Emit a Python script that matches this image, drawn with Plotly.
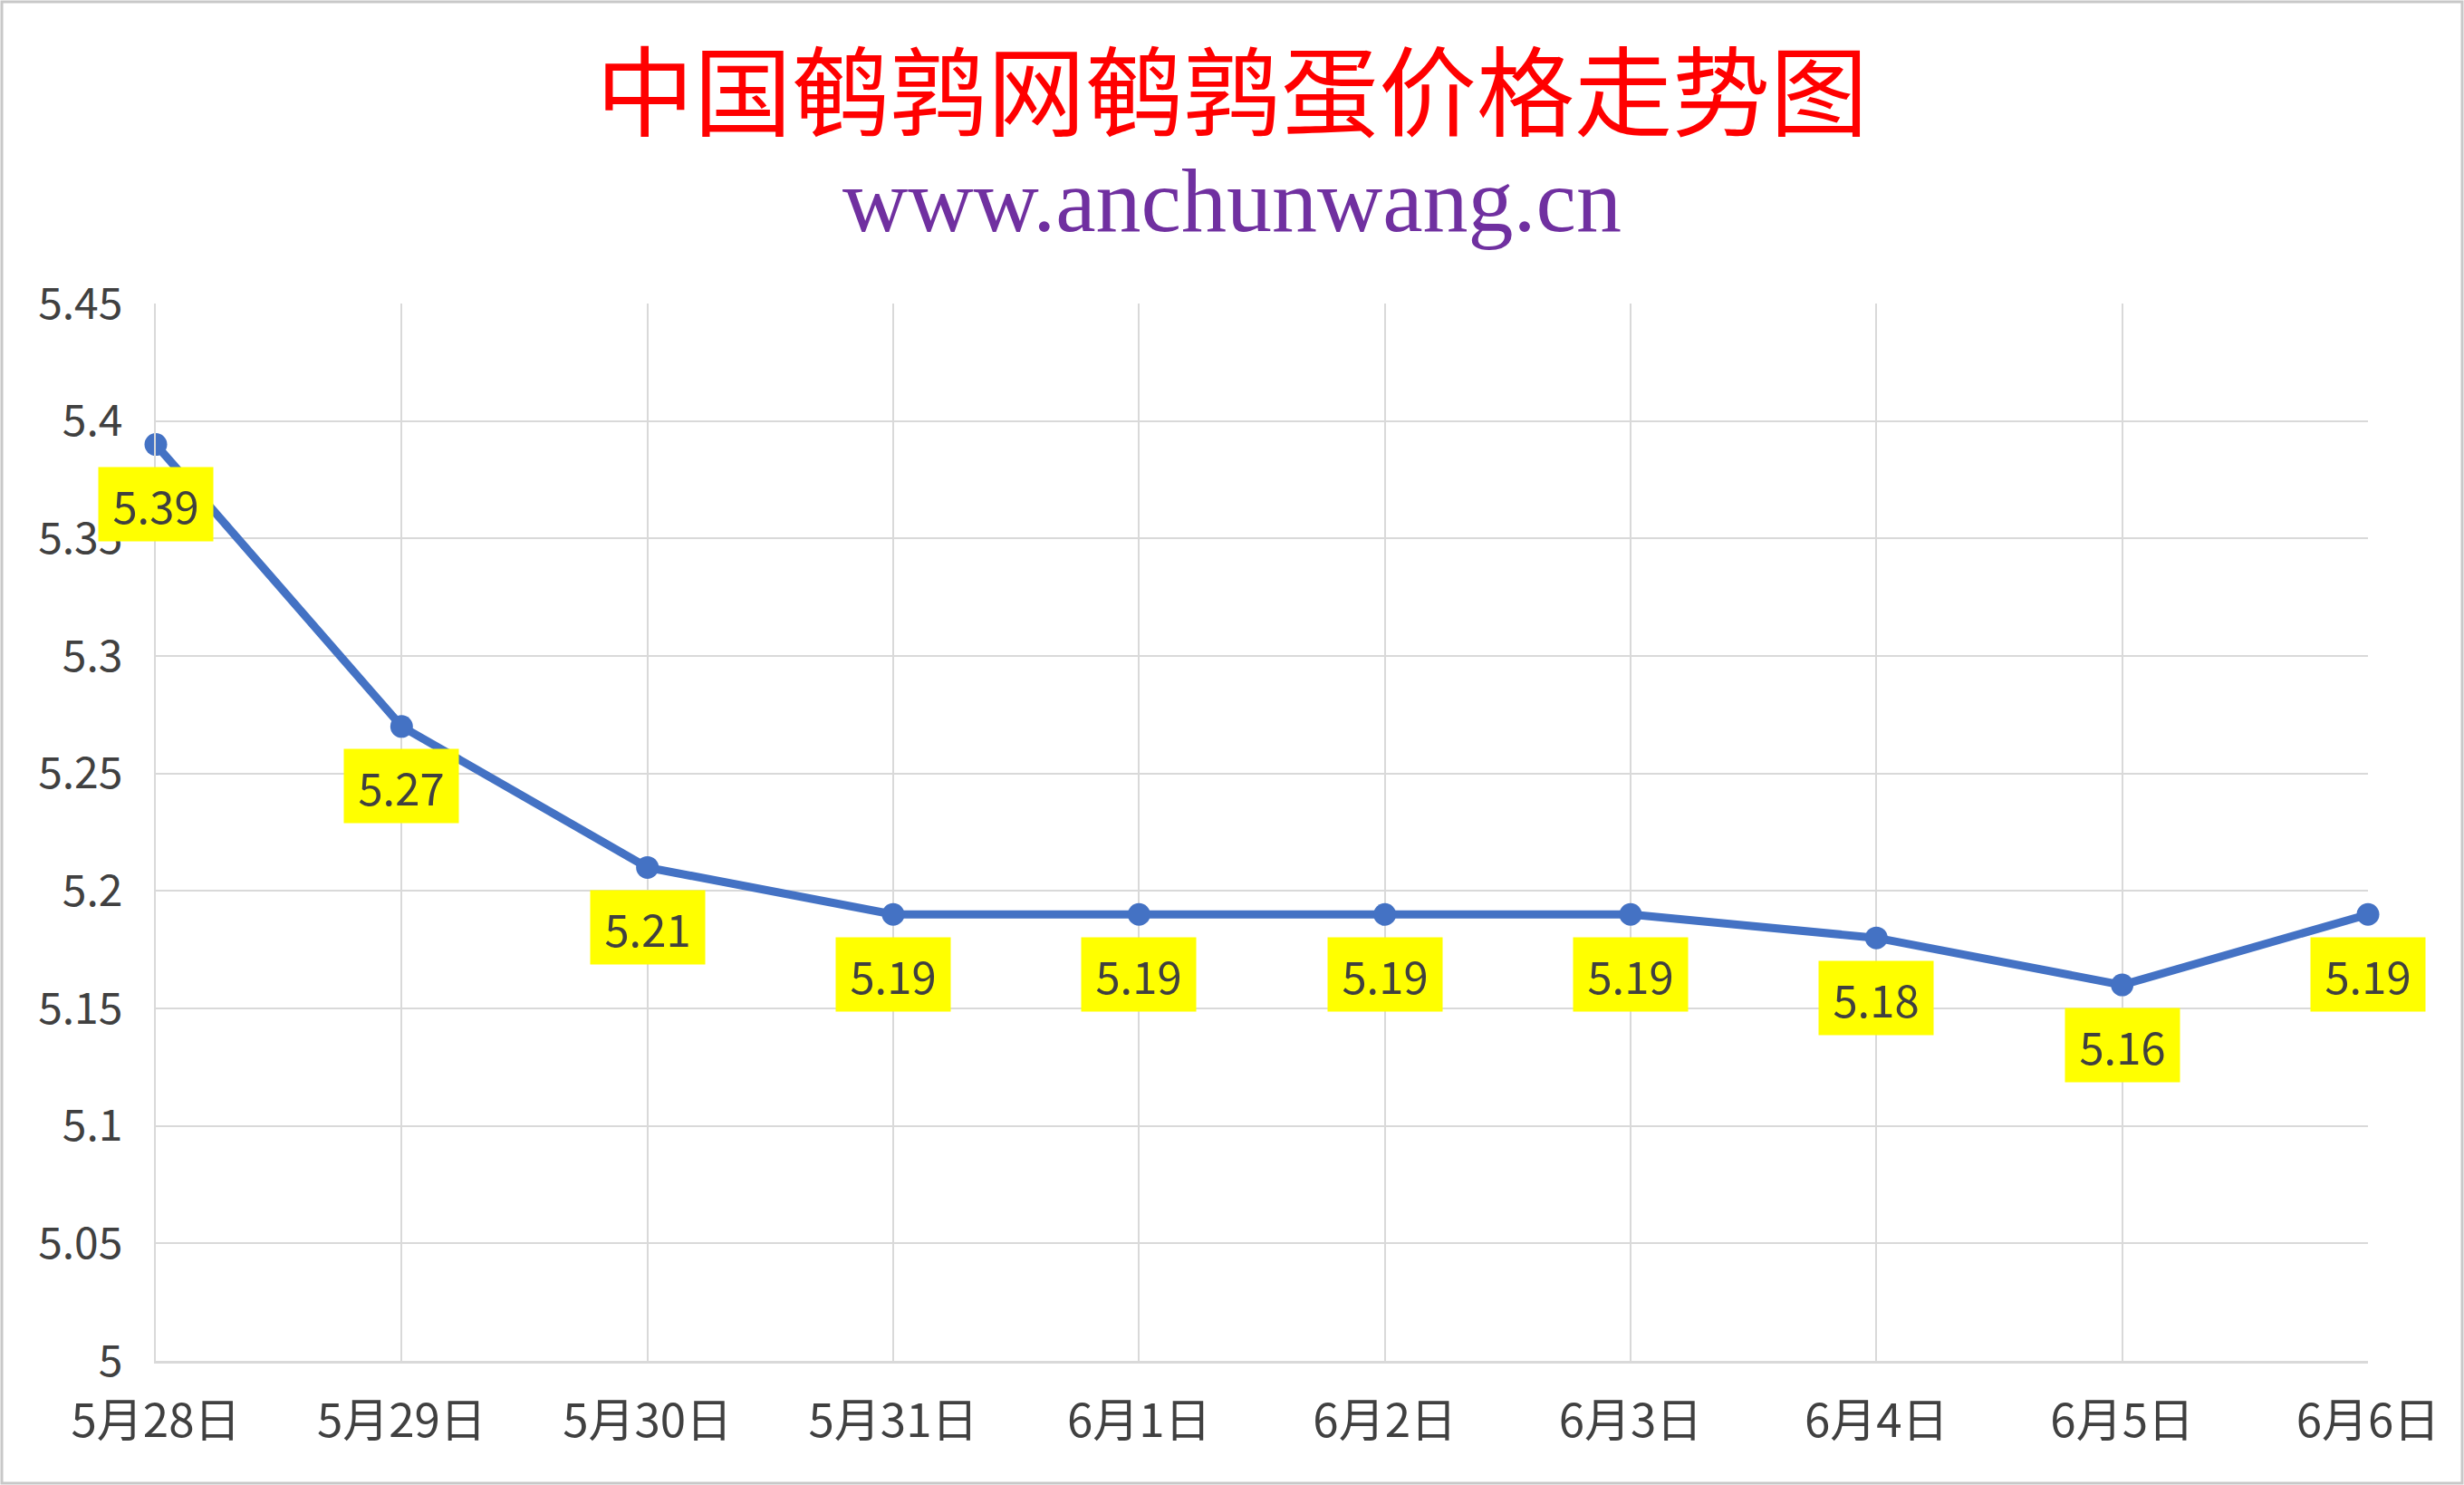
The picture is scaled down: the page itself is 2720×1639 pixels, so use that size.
import plotly.graph_objects as go

# data
dates = ["5月28日", "5月29日", "5月30日", "5月31日", "6月1日",
         "6月2日", "6月3日", "6月4日", "6月5日", "6月6日"]
prices = [5.39, 5.27, 5.21, 5.19, 5.19, 5.19, 5.19, 5.18, 5.16, 5.19]
y_ticks = [5.0, 5.05, 5.1, 5.15, 5.2, 5.25, 5.3, 5.35, 5.4, 5.45]
y_tick_text = ["5", "5.05", "5.1", "5.15", "5.2", "5.25", "5.3", "5.35", "5.4", "5.45"]

W, H = 2720, 1639
L, R, T, B = 172, 106, 335, 137
pw, ph = W - L - R, H - T - B

font_cn = "Noto Sans CJK SC"
txt_gray = "#404040"
grid = "#D9D9D9"

fig = go.Figure()
fig.add_trace(go.Scatter(
    x=dates, y=prices, mode="lines+markers",
    line=dict(color="#4472C4", width=9),
    marker=dict(color="#4472C4", size=25),
    cliponaxis=False, showlegend=False,
))

# yellow value labels below each point
for d, p in zip(dates, prices):
    fig.add_annotation(
        x=d, y=p, text=f"{p:.2f}", showarrow=False, yshift=-66,
        bgcolor="#FFFF00", width=122, height=77, borderpad=2,
        font=dict(family=font_cn, size=49, color=txt_gray),
    )

fig.add_annotation(
    xref="paper", yref="paper", x=(W / 2 - L) / pw, y=1 + (T - 222) / ph,
    text="www.anchunwang.cn", showarrow=False, xanchor="center", yanchor="middle",
    font=dict(family="Liberation Serif", size=100, color="#7030A0"),
)

# light frame around the whole chart
fig.add_shape(
    type="rect", xref="paper", yref="paper",
    x0=-(L - 2) / pw, x1=1 + (R - 2) / pw, y0=-(B - 2) / ph, y1=1 + (T - 2) / ph,
    line=dict(color="#C8C8C8", width=3), fillcolor="rgba(0,0,0,0)",
)

fig.update_layout(
    width=W, height=H,
    margin=dict(l=L, r=R, t=T, b=B),
    paper_bgcolor="white", plot_bgcolor="white",
    title=dict(
        text="中国鹌鹑网鹌鹑蛋价格走势图", x=0.5, xanchor="center",
        y=1 - 104 / H, yanchor="middle",
        font=dict(family=font_cn, size=108, color="#FF0000"),
    ),
    xaxis=dict(
        type="category", range=[0, len(dates) - 1],
        showgrid=True, gridcolor=grid, gridwidth=2,
        showline=True, linecolor=grid, linewidth=3,
        ticks="", ticklabelstandoff=20,
        tickfont=dict(family=font_cn, size=51, color=txt_gray),
    ),
    yaxis=dict(
        range=[5.0, 5.45], tickvals=y_ticks, ticktext=y_tick_text,
        showgrid=True, gridcolor=grid, gridwidth=2,
        showline=True, linecolor=grid, linewidth=2, zeroline=False,
        ticks="", ticklabelstandoff=25,
        tickfont=dict(family=font_cn, size=48, color=txt_gray),
    ),
)

fig.write_html("out.html", config={"displayModeBar": False},
               post_script="document.body.style.margin='0';")
